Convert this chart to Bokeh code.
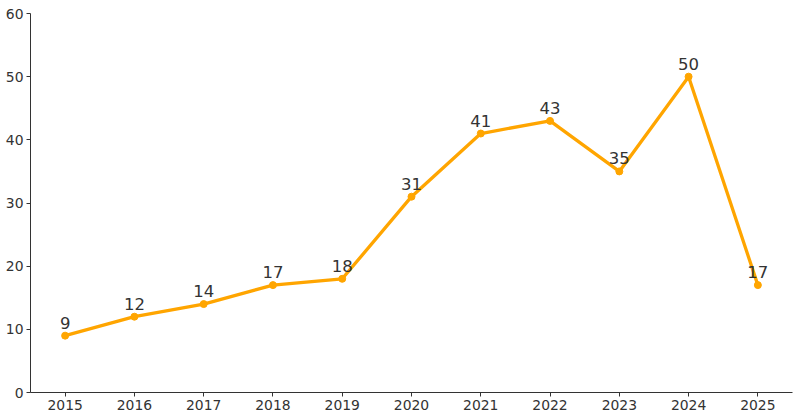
from bokeh.plotting import figure
from bokeh.models import ColumnDataSource, Range1d, FixedTicker
from bokeh.core.properties import value
from bokeh.embed import file_html
from bokeh.resources import INLINE

years = [2015, 2016, 2017, 2018, 2019, 2020, 2021, 2022, 2023, 2024, 2025]
counts = [9, 12, 14, 17, 18, 31, 41, 43, 35, 50, 17]
y_ticks = [0, 10, 20, 30, 40, 50, 60]

src = ColumnDataSource(dict(x=years, y=counts, label=[str(c) for c in counts]))

p = figure(frame_width=762, frame_height=379, output_backend="svg", toolbar_location=None,
           x_range=Range1d(2014.5, 2025.5), y_range=Range1d(0, 60),
           min_border_left=30, min_border_top=13, min_border_bottom=26, min_border_right=8)
p.outline_line_color = None
p.grid.visible = False
p.background_fill_color = "white"

p.line("x", "y", source=src, line_color="#FFA500", line_width=3.3)
p.scatter("x", "y", source=src, size=7, fill_color="#FFA500", line_color="#FFA500")
p.text("x", "y", text="label", source=src, text_align="center", text_baseline="alphabetic",
       y_offset=-13, text_font=value("DejaVu Sans"), text_font_size="16.5px", text_color="#333333")

for ax in (p.xaxis[0], p.yaxis[0]):
    ax.axis_line_color = "#333333"
    ax.major_tick_line_color = "#333333"
    ax.major_tick_out = 4
    ax.major_tick_in = 0
    ax.minor_tick_line_color = None
    ax.major_label_text_font = "DejaVu Sans"
    ax.major_label_text_font_size = "13.9px"
    ax.major_label_text_color = "#333333"
    ax.major_label_standoff = 3

p.xaxis[0].ticker = FixedTicker(ticks=years)
p.yaxis[0].ticker = FixedTicker(ticks=y_ticks)

open("out.html", "w").write(file_html(p, INLINE))
